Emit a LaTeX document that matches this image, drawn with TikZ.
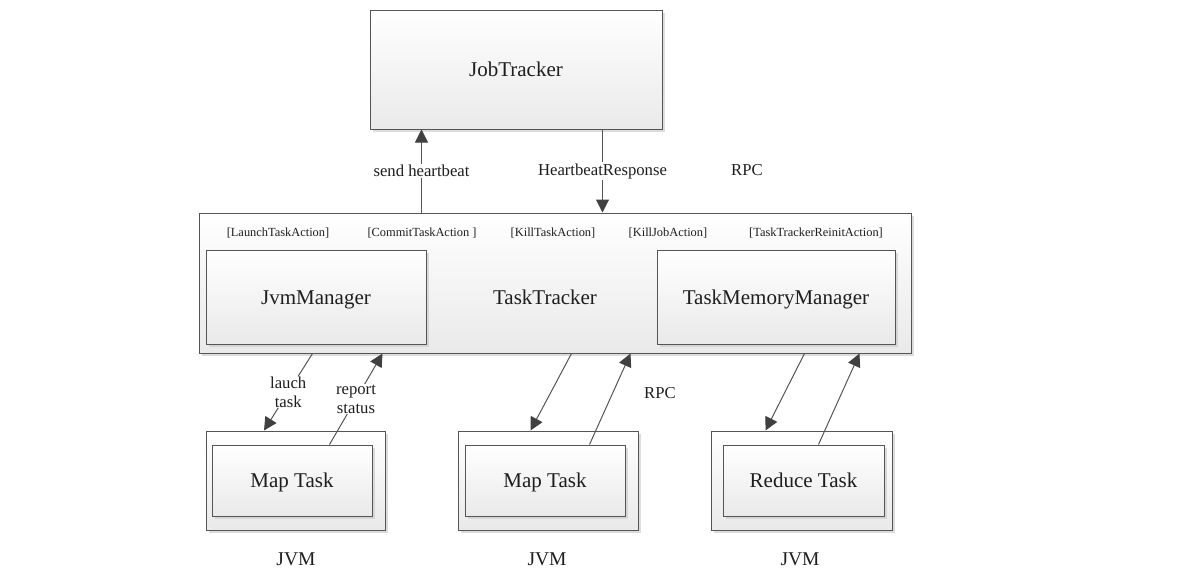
\documentclass[tikz,border=0pt]{standalone}
\usepackage{fontspec}
\setmainfont{Liberation Serif}
\usetikzlibrary{arrows.meta,shadows}
\definecolor{edge}{HTML}{555555}
\definecolor{head}{HTML}{404040}
\definecolor{txt}{HTML}{1E1E1E}
\begin{document}
\begin{tikzpicture}[x=1pt,y=-1pt,
  box/.style={draw=edge,line width=1pt,rectangle,inner sep=0pt,
    top color=white,bottom color=gray!17,
    drop shadow={shadow xshift=2.5pt,shadow yshift=-2.5pt,fill=gray!45,opacity=0.6},
    font=\fontsize{21}{24}\selectfont,text=txt,text height=16pt,text depth=2pt},
  lbl/.style={font=\fontsize{16.7}{19}\selectfont,text=txt,align=center,inner sep=1.5pt},
  act/.style={font=\fontsize{12.4}{14}\selectfont,text=txt,inner sep=0pt},
  big/.style={font=\fontsize{21}{24}\selectfont,text=txt,inner sep=0pt},
  arr/.style={draw=edge,line width=1pt,-{Triangle[length=13pt,width=13pt,color=head]},color=edge},
  ln/.style={draw=edge,line width=1pt}]
\useasboundingbox[fill=white] (0,0) rectangle (1191,576);

% boxes
\node[box,minimum width=292pt,minimum height=119pt] (jt) at (516,69.5) {JobTracker};
\node[box,minimum width=712pt,minimum height=140pt] (tt) at (555,283) {};
\node[big] (ttl) at (545,297) {TaskTracker};
\node[box,minimum width=220pt,minimum height=94pt] (jvm) at (316,297) {JvmManager};
\node[box,minimum width=238pt,minimum height=94pt] (tmm) at (776,297) {TaskMemoryManager};

\node[box,minimum width=179pt,minimum height=99pt] (o1) at (295.5,480.5) {};
\node[box,minimum width=160pt,minimum height=71pt] (i1) at (292,480.5) {Map Task};
\node[box,minimum width=180pt,minimum height=99pt] (o2) at (548,480.5) {};
\node[box,minimum width=160pt,minimum height=71pt] (i2) at (545,480.5) {Map Task};
\node[box,minimum width=181pt,minimum height=99pt] (o3) at (801.5,480.5) {};
\node[box,minimum width=161pt,minimum height=71pt] (i3) at (803.5,480.5) {Reduce Task};

% action labels
\node[act] (a1) at (278,233) {[LaunchTaskAction]};
\node[act] (a2) at (422,233) {[CommitTaskAction ]};
\node[act] (a3) at (553,233) {[KillTaskAction]};
\node[act] (a4) at (668,233) {[KillJobAction]};
\node[act] (a5) at (816,233) {[TaskTrackerReinitAction]};

% JVM labels
\node[big,font=\fontsize{19.5}{22}\selectfont] (j1) at (296,559) {JVM};
\node[big,font=\fontsize{19.5}{22}\selectfont] (j2) at (547,559) {JVM};
\node[big,font=\fontsize{19.5}{22}\selectfont] (j3) at (800,559) {JVM};

% heartbeat
\coordinate (hbs) at ([xshift=223pt]tt.north west);
\coordinate (hrs) at ([xshift=233pt]jt.south west);
\draw[arr] (hbs) -- (jt.south -| hbs) node[midway,lbl,fill=white] (shb) {send heartbeat};
\draw[arr] (hrs) -- (tt.north -| hrs) node[midway,lbl,fill=white] (hbr) {HeartbeatResponse};
\node[lbl] (rpc1) at (747,170) {RPC};

% lower connectors
\coordinate (l1a) at ([xshift=114pt]tt.south west);
\coordinate (l1b) at ([xshift=58.5pt]o1.north west);
\draw[arr] (l1a) -- (l1b) node[midway,lbl,fill=white,inner sep=0.5pt] (lt) {lauch\\task};
\coordinate (r1a) at ([xshift=118pt]i1.north west);
\coordinate (r1b) at ([xshift=184pt]tt.south west);
\draw[arr] (r1a) -- (r1b) node[midway,lbl,fill=white,inner sep=0.5pt] (rs) {report\\status};

\coordinate (l2a) at ([xshift=373pt]tt.south west);
\coordinate (l2b) at ([xshift=73pt]o2.north west);
\draw[arr] (l2a) -- (l2b);
\coordinate (r2a) at ([xshift=125pt]i2.north west);
\coordinate (r2b) at ([xshift=432pt]tt.south west);
\draw[arr] (r2a) -- (r2b);
\node[lbl] (rpc2) at (660,393) {RPC};

\coordinate (l3a) at ([xshift=606pt]tt.south west);
\coordinate (l3b) at ([xshift=55pt]o3.north west);
\draw[arr] (l3a) -- (l3b);
\coordinate (r3a) at ([xshift=96pt]i3.north west);
\coordinate (r3b) at ([xshift=661pt]tt.south west);
\draw[arr] (r3a) -- (r3b);
\end{tikzpicture}
\end{document}
